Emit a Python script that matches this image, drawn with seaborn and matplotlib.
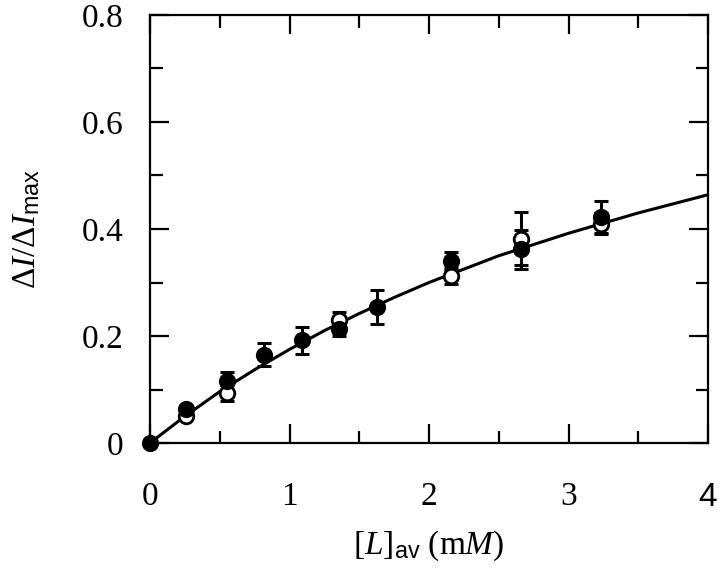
import matplotlib
matplotlib.use("Agg")
import matplotlib.pyplot as plt
from matplotlib.ticker import MultipleLocator, FixedLocator
import seaborn as sns
import pandas as pd

# ---- data ----
x_filled = [0.0, 0.26, 0.55, 0.82, 1.09, 1.355, 1.63, 2.155, 2.66, 3.23]
y_filled = [0.0, 0.063, 0.115, 0.165, 0.192, 0.213, 0.254, 0.340, 0.362, 0.423]
e_filled = [0.0, 0.006, 0.017, 0.022, 0.025, 0.013, 0.032, 0.017, 0.036, 0.030]

x_open = [0.26, 0.55, 1.355, 2.155, 2.66, 3.23]
y_open = [0.050, 0.093, 0.230, 0.313, 0.382, 0.410]
e_open = [0.005, 0.015, 0.015, 0.015, 0.050, 0.020]

x_fit = [0.0, 0.25, 0.5, 0.75, 1.0, 1.25, 1.5, 1.75, 2.0, 2.5, 3.0, 3.5, 4.0]
y_fit = [0.0, 0.050, 0.096, 0.137, 0.175, 0.210, 0.242, 0.272, 0.300, 0.350, 0.392, 0.430, 0.464]

x_ticks = [0, 1, 2, 3, 4]
x_tick_labels = ["0", "1", "2", "3", "4"]
y_ticks = [0, 0.2, 0.4, 0.6, 0.8]
y_tick_labels = ["0", "0.2", "0.4", "0.6", "0.8"]

sns.set_theme(style="ticks")
plt.rcParams["font.family"] = ["Liberation Serif", "DejaVu Serif"]
plt.rcParams["mathtext.fontset"] = "custom"
plt.rcParams["mathtext.rm"] = "Liberation Serif"
plt.rcParams["mathtext.it"] = "Liberation Serif:italic"
plt.rcParams["mathtext.bf"] = "Liberation Serif:bold"
plt.rcParams["mathtext.sf"] = "Liberation Sans"

fig = plt.figure(figsize=(7.2, 5.76), dpi=100)
ax = fig.add_axes([150 / 720, (576 - 443) / 576, 558 / 720, 428 / 576])

fit_df = pd.DataFrame({"x": x_fit, "y": y_fit})
sns.lineplot(data=fit_df, x="x", y="y", ax=ax, color="black", lw=2.2, zorder=2)

ax.errorbar(x_open, y_open, yerr=e_open, fmt="none", ecolor="black",
            elinewidth=2.2, capsize=5, capthick=2.2, zorder=3)
ax.errorbar(x_filled, y_filled, yerr=e_filled, fmt="none", ecolor="black",
            elinewidth=2.2, capsize=5, capthick=2.2, zorder=3)

open_df = pd.DataFrame({"x": x_open, "y": y_open})
filled_df = pd.DataFrame({"x": x_filled, "y": y_filled})
sns.scatterplot(data=open_df, x="x", y="y", ax=ax, s=110, marker="o",
                facecolor="white", edgecolor="black", linewidth=2.0, zorder=4,
                clip_on=False)
sns.scatterplot(data=filled_df, x="x", y="y", ax=ax, s=130, marker="o",
                color="black", edgecolor="black", linewidth=1, zorder=5,
                clip_on=False)

ax.set_xlim(0, 4)
ax.set_ylim(0, 0.8)
ax.xaxis.set_major_locator(FixedLocator(x_ticks))
ax.xaxis.set_minor_locator(MultipleLocator(0.5))
ax.yaxis.set_major_locator(FixedLocator(y_ticks))
ax.yaxis.set_minor_locator(MultipleLocator(0.1))
ax.set_yticklabels(y_tick_labels)
ax.set_xticklabels(x_tick_labels)
# the "4" in the reference is set in a sans face
ax.get_xticklabels()[-1].set_family(["Liberation Sans", "DejaVu Sans"])

for sp in ax.spines.values():
    sp.set_visible(True)
    sp.set_linewidth(1.6)
    sp.set_color("black")

ax.tick_params(which="both", direction="in", top=True, right=True,
               color="black", width=1.6, labelsize=24, labelcolor="black")
ax.tick_params(which="major", length=14)
ax.tick_params(which="minor", length=9)
ax.tick_params(axis="x", which="major", pad=28)
ax.tick_params(axis="y", which="major", pad=19)

ax.set_xlabel(r"[$L$]$_{\mathsf{av}}$ (m$M$)", fontsize=24, color="black")
ax.xaxis.set_label_coords(0.5, -(546 - 443) / 428, transform=ax.transAxes)
ax.xaxis.label.set_verticalalignment("center")
ax.set_ylabel(r"$\Delta I/\Delta I_{\mathsf{max}}$", fontsize=24, color="black")
ax.yaxis.set_label_coords(-(150 - 27) / 558, 0.5, transform=ax.transAxes)
ax.yaxis.label.set_verticalalignment("center")

fig.savefig("out.png", dpi=100, facecolor="white")
